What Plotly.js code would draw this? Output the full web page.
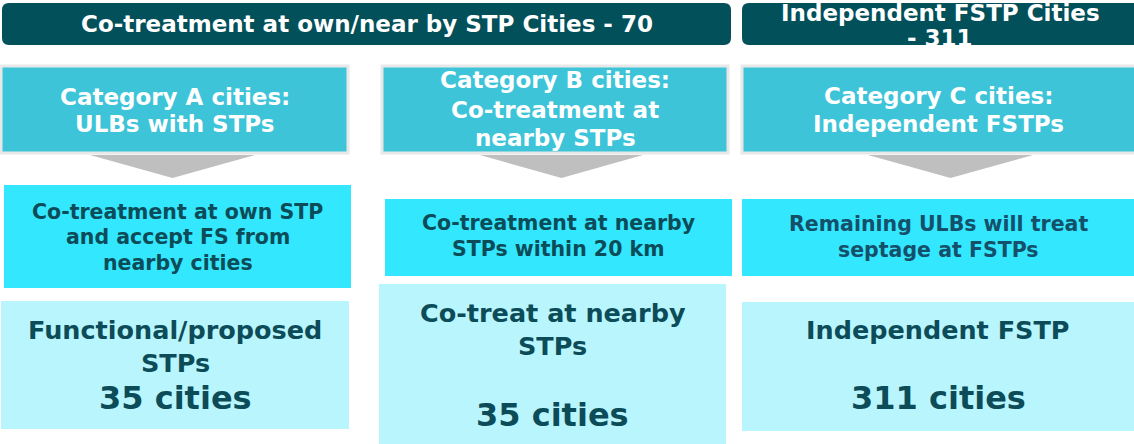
<!DOCTYPE html>
<html>
<head>
<meta charset="utf-8">
<script src="https://cdn.plot.ly/plotly-3.0.1.min.js"></script>
<style>html,body{margin:0;padding:0;background:#fff;}#chart{width:1134px;height:444px;}</style>
</head>
<body>
<div id="chart"></div>
<script>
// ---- data ----
const groupTitles = ["Co-treatment at own/near by STP Cities - 70", "Independent FSTP Cities", "- 311"];
const categoryNames = ["Category A cities:", "Category B cities:", "Category C cities:"];
const categorySubtitles = [["ULBs with STPs"], ["Co-treatment at", "nearby STPs"], ["Independent FSTPs"]];
const approaches = [
  ["Co-treatment at own STP", "and accept FS from", "nearby cities"],
  ["Co-treatment at nearby", "STPs within 20 km"],
  ["Remaining ULBs will treat", "septage at FSTPs"]
];
const outcomes = [["Functional/proposed", "STPs"], ["Co-treat at nearby", "STPs"], ["Independent FSTP"]];
const cityCounts = [35, 35, 311];

// ---- layout geometry (pixels, y downward) ----
const FONT = "DejaVu Sans, Arial Black, sans-serif";
const DARK = "#02505A";
const CAT = "#3DC4D8";
const MID = "#33E7FF";
const LIGHT = "#B9F5FD";
const TXT = "#0B4C58";

const shapes = [];
const annotations = [];

function rrect(x0, y0, x1, y1, r, fill) {
  const p = `M${x0+r},${y0} L${x1-r},${y0} Q${x1},${y0} ${x1},${y0+r} L${x1},${y1-r} Q${x1},${y1} ${x1-r},${y1} L${x0+r},${y1} Q${x0},${y1} ${x0},${y1-r} L${x0},${y0+r} Q${x0},${y0} ${x0+r},${y0} Z`;
  shapes.push({type: "path", xref: "x", yref: "y", path: p, fillcolor: fill, line: {width: 0}, layer: "below"});
}
function rect(x0, y0, x1, y1, fill, lineColor, lw) {
  shapes.push({type: "rect", xref: "x", yref: "y", x0, y0, x1, y1, fillcolor: fill,
    line: {width: lw || 0, color: lineColor || fill}, layer: "below"});
}
function tri(x0, x1, yTop, yApex) {
  const xm = (x0 + x1) / 2;
  shapes.push({type: "path", xref: "x", yref: "y", path: `M${x0},${yTop} L${x1},${yTop} L${xm},${yApex} Z`,
    fillcolor: "#BFBFBF", line: {width: 0}, layer: "below"});
}
function text(x, y, t, size, color) {
  annotations.push({xref: "x", yref: "y", x, y, text: "<b>" + t + "</b>", showarrow: false,
    xanchor: "center", yanchor: "middle", font: {family: FONT, size, color}});
}

// group banners
rrect(2, 3, 731, 45, 7, DARK);
rrect(742, 3, 1145, 45, 7, DARK);
text(367, 24, groupTitles[0], 23, "#FFFFFF");
text(940, 13, groupTitles[1], 23, "#FFFFFF");
text(940, 38, groupTitles[2], 23, "#FFFFFF");
// white strip below banner (the overflowing second line is clipped there, as in the source)
shapes.push({type: "rect", xref: "x", yref: "y", x0: 735, x1: 1134, y0: 45, y1: 62, fillcolor: "#FFFFFF", line: {width: 0}, layer: "above"});

// columns
const colCat = [[1, 348], [382, 728], [742, 1140]];
const catY = [66, 153];
const triX = [[90, 255], [480, 643], [868, 1033]];
const midBox = [[4, 351, 185, 288], [385, 732, 199, 276], [742, 1140, 199, 276]];
const lowBox = [[1, 349, 301, 429], [379, 726, 284, 446], [742, 1140, 302, 431]];
const catLines = [[97, 124], [80, 110, 138], [96, 124]];
const midLines = [[212, 237, 263], [223, 249], [224, 250]];
const lowLines = [[330, 363], [313, 346], [330]];
const countY = [398, 415, 398];
const midColors = [TXT, TXT, "#14506A"];

for (let i = 0; i < 3; i++) {
  const [a, b] = colCat[i];
  rect(a, catY[0], b, catY[1], CAT, "#E8E8E8", 3);
  const cx = (a + Math.min(b, 1134)) / 2;
  const cl = [categoryNames[i]].concat(categorySubtitles[i]);
  cl.forEach((t, j) => text(cx, catLines[i][j], t, 23, "#FFFFFF"));
  tri(triX[i][0], triX[i][1], 155, 178);

  const m = midBox[i];
  rect(m[0], m[2], m[1], m[3], MID);
  const mx = (m[0] + Math.min(m[1], 1134)) / 2;
  approaches[i].forEach((t, j) => text(mx, midLines[i][j], t, 20.5, midColors[i]));

  const l = lowBox[i];
  rect(l[0], l[2], l[1], l[3], LIGHT);
  const lx = (l[0] + Math.min(l[1], 1134)) / 2;
  outcomes[i].forEach((t, j) => text(lx, lowLines[i][j], t, 25.5, TXT));
  text(lx, countY[i], cityCounts[i] + " cities", 32, TXT);
}

const layout = {
  width: 1134, height: 444,
  margin: {l: 0, r: 0, t: 0, b: 0},
  paper_bgcolor: "#FFFFFF", plot_bgcolor: "#FFFFFF",
  xaxis: {range: [0, 1134], visible: false, fixedrange: true},
  yaxis: {range: [444, 0], visible: false, fixedrange: true},
  showlegend: false,
  shapes, annotations
};
Plotly.newPlot("chart", [{x: [], y: [], type: "scatter", hoverinfo: "skip"}], layout, {staticPlot: true, displayModeBar: false});
</script>
</body>
</html>
